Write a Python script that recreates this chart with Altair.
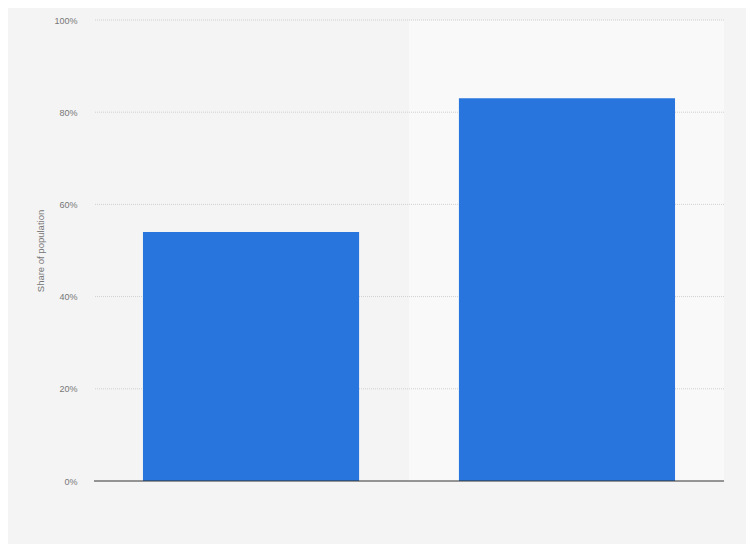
import altair as alt
import pandas as pd

categories = ["Group 1", "Group 2"]
values = [54, 83]
shaded = ["Group 2"]
grid_values = [20, 40, 60, 80, 100]

df = pd.DataFrame({"category": categories, "share": values})
bg = pd.DataFrame({"category": shaded, "top": [100]})
gl = pd.DataFrame({"g": grid_values})

xscale = alt.Scale(domain=categories, paddingInner=0.316, paddingOuter=0.155)
yscale = alt.Scale(domain=[0, 100])

yaxis = alt.Axis(values=[0, 20, 40, 60, 80, 100],
                 labelExpr="datum.value + '%'",
                 title="Share of population",
                 titleFont="Arial", titleFontSize=9.5, titleFontWeight="normal",
                 titleColor="#777", titlePadding=8,
                 labelFont="Arial", labelFontSize=9, labelColor="#777",
                 labelPadding=17,
                 ticks=False, domain=False, grid=False)

def Y(field):
    return alt.Y(field, scale=yscale, axis=yaxis, title="Share of population")

xenc = alt.X("category:N", scale=xscale, sort=categories,
             axis=alt.Axis(labels=False, ticks=False, domain=False, title=None))

band = alt.Chart(bg).mark_rect(color="#f9f9f9").encode(
    x=alt.X("category:N", scale=alt.Scale(domain=categories, paddingInner=0, paddingOuter=0),
            sort=categories, axis=None),
    y=Y("top:Q"),
    y2=alt.datum(0),
)

grid = alt.Chart(gl).mark_rule(color="#d0d0d0", strokeDash=[1, 1], strokeWidth=1).encode(
    y=Y("g:Q")
)

bars = alt.Chart(df).mark_bar(color="#2876dd").encode(
    x=xenc,
    y=Y("share:Q"),
)

base = alt.Chart(pd.DataFrame({"y": [0]})).mark_rule(color="#333333", strokeWidth=1.2).encode(
    y=Y("y:Q")
)

chart = alt.layer(band, grid, bars, base).resolve_scale(x="independent").properties(
    width=630, height=461,
    background="#f4f4f4",
    padding={"left": 86, "top": 12, "right": 22, "bottom": 63},
    autosize=alt.AutoSizeParams(type="none"),
).configure_view(stroke=None)

chart.save("out.html", embed_options={"renderer": "svg", "actions": False})
